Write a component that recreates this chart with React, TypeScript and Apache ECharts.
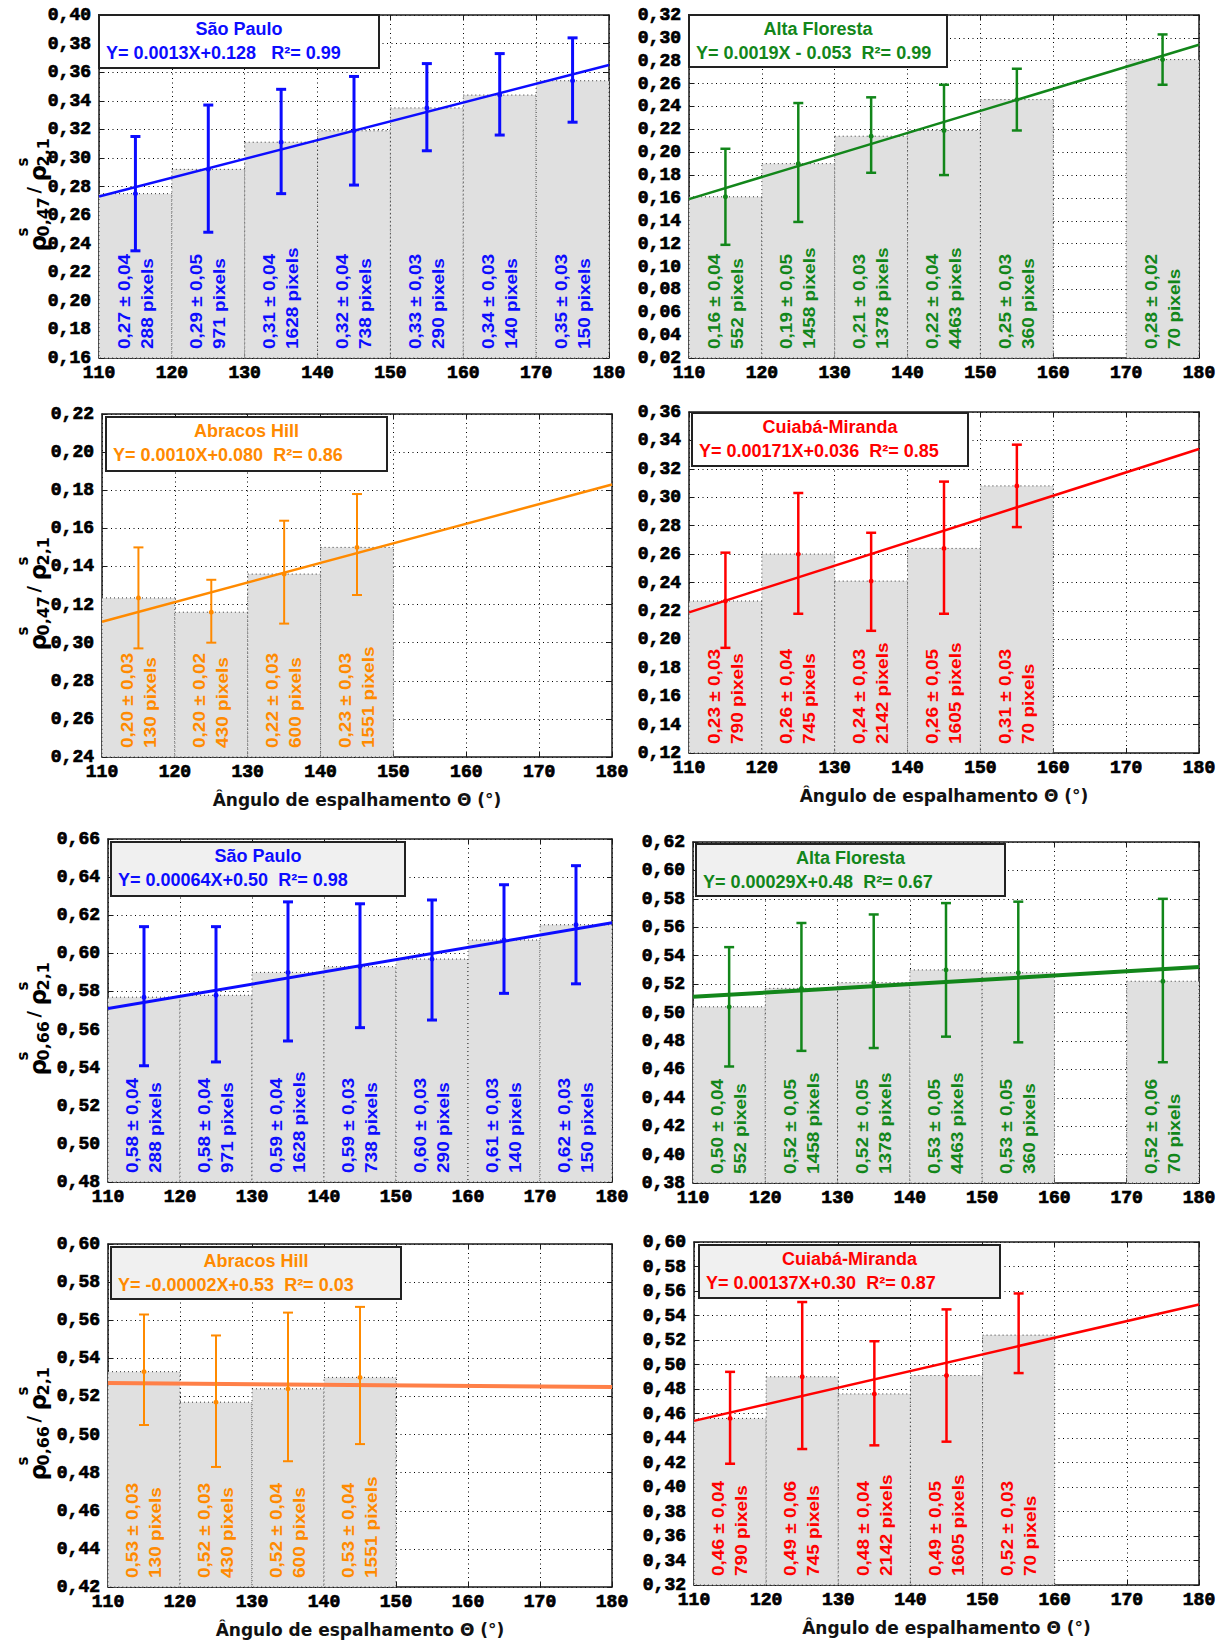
import React, { useEffect, useRef } from "react";
import * as echarts from "echarts";

// ---------- shared axis data ----------
const X_RANGE = [110, 180];
const X_STEP = 10;
const BIN_HALF = 5;
const Y_STEP = 0.02;
const X_TITLE = "Ângulo de espalhamento Θ (°)";

// ---------- Panel 1: São Paulo, 0,47 / 2,1 ----------
const sp47Centers = [115, 125, 135, 145, 155, 165, 175];
const sp47Means = [0.275, 0.292, 0.311, 0.319, 0.335, 0.344, 0.354];
const sp47Lo = [0.235, 0.248, 0.275, 0.281, 0.305, 0.316, 0.325];
const sp47Hi = [0.315, 0.337, 0.348, 0.357, 0.366, 0.373, 0.384];
const sp47Stats = ["0,27 ± 0,04", "0,29 ± 0,05", "0,31 ± 0,04", "0,32 ± 0,04", "0,33 ± 0,03", "0,34 ± 0,03", "0,35 ± 0,03"];
const sp47Pixels = ["288", "971", "1628", "738", "290", "140", "150"];
const sp47Fit = [0.273, 0.365];
const sp47Y = [0.16, 0.4];

// ---------- Panel 2: Alta Floresta, 0,47 / 2,1 ----------
const af47Centers = [115, 125, 135, 145, 155, 175];
const af47Means = [0.161, 0.19, 0.214, 0.219, 0.246, 0.281];
const af47Lo = [0.119, 0.139, 0.182, 0.18, 0.219, 0.259];
const af47Hi = [0.203, 0.243, 0.248, 0.259, 0.273, 0.303];
const af47Stats = ["0,16 ± 0,04", "0,19 ± 0,05", "0,21 ± 0,03", "0,22 ± 0,04", "0,25 ± 0,03", "0,28 ± 0,02"];
const af47Pixels = ["552", "1458", "1378", "4463", "360", "70"];
const af47Fit = [0.159, 0.294];
const af47Y = [0.02, 0.32];

// ---------- Panel 3: Abracos Hill, 0,47 / 2,1 ----------
const ah47Centers = [115, 125, 135, 145];
const ah47Means = [0.1235, 0.116, 0.136, 0.15];
const ah47Lo = [0.097, 0.1, 0.11, 0.125];
const ah47Hi = [0.15, 0.133, 0.164, 0.178];
const ah47Stats = ["0,20 ± 0,03", "0,20 ± 0,02", "0,22 ± 0,03", "0,23 ± 0,03"];
const ah47Pixels = ["130", "430", "600", "1551"];
const ah47Fit = [0.111, 0.183];
const ah47Y = [0.04, 0.22];
const ah47YLabels = ["0,24", "0,26", "0,28", "0,30", "0,12", "0,14", "0,16", "0,18", "0,20", "0,22"];

// ---------- Panel 4: Cuiabá-Miranda, 0,47 / 2,1 ----------
const cm47Centers = [115, 125, 135, 145, 155];
const cm47Means = [0.227, 0.26, 0.241, 0.264, 0.308];
const cm47Lo = [0.194, 0.218, 0.206, 0.218, 0.279];
const cm47Hi = [0.261, 0.303, 0.275, 0.311, 0.337];
const cm47Stats = ["0,23 ± 0,03", "0,26 ± 0,04", "0,24 ± 0,03", "0,26 ± 0,05", "0,31 ± 0,03"];
const cm47Pixels = ["790", "745", "2142", "1605", "70"];
const cm47Fit = [0.219, 0.334];
const cm47Y = [0.12, 0.36];

// ---------- Panel 5: São Paulo, 0,66 / 2,1 ----------
const sp66Centers = [115, 125, 135, 145, 155, 165, 175];
const sp66Means = [0.577, 0.578, 0.59, 0.593, 0.597, 0.607, 0.615];
const sp66Lo = [0.541, 0.543, 0.554, 0.561, 0.565, 0.579, 0.584];
const sp66Hi = [0.614, 0.614, 0.627, 0.626, 0.628, 0.636, 0.646];
const sp66Stats = ["0,58 ± 0,04", "0,58 ± 0,04", "0,59 ± 0,04", "0,59 ± 0,03", "0,60 ± 0,03", "0,61 ± 0,03", "0,62 ± 0,03"];
const sp66Pixels = ["288", "971", "1628", "738", "290", "140", "150"];
const sp66Fit = [0.571, 0.616];
const sp66Y = [0.48, 0.66];

// ---------- Panel 6: Alta Floresta, 0,66 / 2,1 ----------
const af66Centers = [115, 125, 135, 145, 155, 175];
const af66Means = [0.504, 0.517, 0.521, 0.53, 0.528, 0.522];
const af66Lo = [0.462, 0.473, 0.475, 0.483, 0.479, 0.465];
const af66Hi = [0.546, 0.563, 0.569, 0.577, 0.578, 0.58];
const af66Stats = ["0,50 ± 0,04", "0,52 ± 0,05", "0,52 ± 0,05", "0,53 ± 0,05", "0,53 ± 0,05", "0,52 ± 0,06"];
const af66Pixels = ["552", "1458", "1378", "4463", "360", "70"];
const af66Fit = [0.511, 0.532];
const af66Y = [0.38, 0.62];

// ---------- Panel 7: Abracos Hill, 0,66 / 2,1 ----------
const ah66Centers = [115, 125, 135, 145];
const ah66Means = [0.533, 0.517, 0.524, 0.53];
const ah66Lo = [0.505, 0.483, 0.486, 0.495];
const ah66Hi = [0.563, 0.552, 0.564, 0.567];
const ah66Stats = ["0,53 ± 0,03", "0,52 ± 0,03", "0,52 ± 0,04", "0,53 ± 0,04"];
const ah66Pixels = ["130", "430", "600", "1551"];
const ah66Fit = [0.527, 0.525];
const ah66Y = [0.42, 0.6];

// ---------- Panel 8: Cuiabá-Miranda, 0,66 / 2,1 ----------
const cm66Centers = [115, 125, 135, 145, 155];
const cm66Means = [0.456, 0.49, 0.476, 0.491, 0.524];
const cm66Lo = [0.419, 0.431, 0.434, 0.437, 0.493];
const cm66Hi = [0.494, 0.551, 0.519, 0.545, 0.558];
const cm66Stats = ["0,46 ± 0,04", "0,49 ± 0,06", "0,48 ± 0,04", "0,49 ± 0,05", "0,52 ± 0,03"];
const cm66Pixels = ["790", "745", "2142", "1605", "70"];
const cm66Fit = [0.454, 0.549];
const cm66Y = [0.32, 0.6];

// ---------- titles / equations ----------
const siteNames = ["São Paulo", "Alta Floresta", "Abracos Hill", "Cuiabá-Miranda", "São Paulo", "Alta Floresta", "Abracos Hill", "Cuiabá-Miranda"];
const equations = [
  "Y= 0.0013X+0.128   R²= 0.99",
  "Y= 0.0019X - 0.053  R²= 0.99",
  "Y= 0.0010X+0.080  R²= 0.86",
  "Y= 0.00171X+0.036  R²= 0.85",
  "Y= 0.00064X+0.50  R²= 0.98",
  "Y= 0.00029X+0.48  R²= 0.67",
  "Y= -0.00002X+0.53  R²= 0.03",
  "Y= 0.00137X+0.30  R²= 0.87",
];
const bandLabels = ["0,47", "0,66"];

// ---------- styling ----------
const BLUE = "#0c0cff";
const GREEN = "#12861a";
const ORANGE = "#ff8a00";
const RED = "#ff0000";
const FONT_TICK = '"Liberation Mono", "Courier New", monospace';
const FONT_SANS = '"Liberation Sans", Arial, sans-serif';
const FONT_TITLE = '"DejaVu Sans", Verdana, sans-serif';

const DATA = [
  { c: sp47Centers, m: sp47Means, lo: sp47Lo, hi: sp47Hi, st: sp47Stats, px: sp47Pixels, fit: sp47Fit, y: sp47Y },
  { c: af47Centers, m: af47Means, lo: af47Lo, hi: af47Hi, st: af47Stats, px: af47Pixels, fit: af47Fit, y: af47Y },
  { c: ah47Centers, m: ah47Means, lo: ah47Lo, hi: ah47Hi, st: ah47Stats, px: ah47Pixels, fit: ah47Fit, y: ah47Y, yl: ah47YLabels },
  { c: cm47Centers, m: cm47Means, lo: cm47Lo, hi: cm47Hi, st: cm47Stats, px: cm47Pixels, fit: cm47Fit, y: cm47Y },
  { c: sp66Centers, m: sp66Means, lo: sp66Lo, hi: sp66Hi, st: sp66Stats, px: sp66Pixels, fit: sp66Fit, y: sp66Y },
  { c: af66Centers, m: af66Means, lo: af66Lo, hi: af66Hi, st: af66Stats, px: af66Pixels, fit: af66Fit, y: af66Y },
  { c: ah66Centers, m: ah66Means, lo: ah66Lo, hi: ah66Hi, st: ah66Stats, px: ah66Pixels, fit: ah66Fit, y: ah66Y },
  { c: cm66Centers, m: cm66Means, lo: cm66Lo, hi: cm66Hi, st: cm66Stats, px: cm66Pixels, fit: cm66Fit, y: cm66Y },
];

const LAYOUT = [
  { left: 99, top: 15, width: 510, height: 343, box: [99, 15, 280, 53], fill: "#ffffff", color: BLUE, lineColor: BLUE, lw: 2.5, ebw: 3, yTitle: 0, xTitle: false },
  { left: 689, top: 15, width: 510, height: 343, box: [689, 15, 258, 52], fill: "#ffffff", color: GREEN, lineColor: GREEN, lw: 2.5, ebw: 2.5, yTitle: -1, xTitle: false },
  { left: 102, top: 414, width: 510, height: 343, box: [106, 417, 281, 54], fill: "#ffffff", color: ORANGE, lineColor: ORANGE, lw: 2.5, ebw: 2, yTitle: 0, xTitle: true },
  { left: 689, top: 412, width: 510, height: 341, box: [692, 413, 276, 53], fill: "#ffffff", color: RED, lineColor: RED, lw: 2.5, ebw: 2.5, yTitle: -1, xTitle: true },
  { left: 108, top: 839, width: 504, height: 343, box: [111, 842, 294, 54], fill: "#f0f0f0", color: BLUE, lineColor: BLUE, lw: 3, ebw: 3, yTitle: 1, xTitle: false },
  { left: 693, top: 842, width: 506, height: 341, box: [696, 844, 309, 52], fill: "#f0f0f0", color: GREEN, lineColor: GREEN, lw: 4, ebw: 2.5, yTitle: -1, xTitle: false },
  { left: 108, top: 1244, width: 504, height: 343, box: [111, 1247, 290, 52], fill: "#f0f0f0", color: ORANGE, lineColor: "#ff8048", lw: 4, ebw: 2, yTitle: 1, xTitle: true },
  { left: 694, top: 1242, width: 505, height: 343, box: [699, 1245, 301, 53], fill: "#f0f0f0", color: RED, lineColor: RED, lw: 2.5, ebw: 2.5, yTitle: -1, xTitle: true },
];

function yTitleGroup(cx: number, cy: number, band: string) {
  const f = (s: number) => `bold ${s}px ${FONT_TITLE}`;
  const t = (text: string, x: number, y: number, size: number) => ({
    type: "text",
    x,
    y,
    style: { text, font: f(size), fill: "#000", align: "left", verticalAlign: "middle", textAlign: "left", textVerticalAlign: "middle" },
  });
  return {
    type: "group",
    x: cx,
    y: cy,
    rotation: Math.PI / 2,
    z: 100,
    children: [
      t("ρ", -60, 1, 23),
      t("s", -45, -14, 15),
      t(band, -45, 6, 16),
      t("/", -2, -4, 18),
      t("ρ", 10, 1, 23),
      t("s", 25, -14, 15),
      t("2,1", 25, 6, 16),
    ],
  };
}

function buildOption() {
  const grid: any[] = [];
  const xAxis: any[] = [];
  const yAxis: any[] = [];
  const series: any[] = [];
  const graphic: any[] = [];

  LAYOUT.forEach((L, i) => {
    const d: any = DATA[i];
    grid.push({ left: L.left, top: L.top, width: L.width, height: L.height, containLabel: false, outerBoundsMode: "none" });
    const axisLine = { show: true, onZero: false, lineStyle: { color: "#1a1a1a", width: 1.5 } };
    const axisTick = { show: true, inside: true, length: 5, lineStyle: { color: "#1a1a1a", width: 1 } };
    const splitLine = { show: true, lineStyle: { color: "#000", width: 1, type: [1, 3.5] } };
    const tickFont = {
      color: "#000", fontFamily: FONT_TICK, fontWeight: "bold", fontSize: 18,
      textBorderColor: "#000", textBorderWidth: 0.7,
    };

    xAxis.push({
      gridIndex: i, type: "value", position: "bottom", min: X_RANGE[0], max: X_RANGE[1], interval: X_STEP,
      axisLine, axisTick, splitLine,
      axisLabel: { ...tickFont, margin: 6, formatter: (v: number) => String(Math.round(v)) },
      name: L.xTitle ? X_TITLE : "", nameLocation: "middle", nameGap: 34,
      nameTextStyle: { color: "#111", fontFamily: FONT_TITLE, fontWeight: "bold", fontSize: 17 },
    });
    xAxis.push({
      gridIndex: i, type: "value", position: "top", min: X_RANGE[0], max: X_RANGE[1], interval: X_STEP,
      axisLine, axisTick, splitLine: { show: false }, axisLabel: { show: false },
    });
    const yFmt = (v: number) => {
      const k = Math.round((v - d.y[0]) / Y_STEP);
      return d.yl ? d.yl[k] : (d.y[0] + k * Y_STEP).toFixed(2).replace(".", ",");
    };
    yAxis.push({
      gridIndex: i, type: "value", position: "left", min: d.y[0], max: d.y[1], interval: Y_STEP,
      axisLine, axisTick, splitLine,
      axisLabel: { ...tickFont, margin: 8, formatter: yFmt },
    });
    yAxis.push({
      gridIndex: i, type: "value", position: "right", min: d.y[0], max: d.y[1], interval: Y_STEP,
      axisLine, axisTick, splitLine: { show: false }, axisLabel: { show: false },
    });
    const xi = 2 * i;
    const yi = 2 * i;
    const yMin = d.y[0];

    // histogram bars
    series.push({
      type: "custom", xAxisIndex: xi, yAxisIndex: yi, silent: true, z: 1,
      data: d.c.map((c: number, k: number) => [c, d.m[k]]),
      renderItem: (_p: any, api: any) => {
        const c = api.value(0);
        const m = api.value(1);
        const a = api.coord([c - BIN_HALF, m]);
        const b = api.coord([c + BIN_HALF, yMin]);
        return {
          type: "rect",
          shape: { x: a[0], y: a[1], width: b[0] - a[0], height: b[1] - a[1] },
          style: { fill: "#e0e0e0", stroke: "#333", lineWidth: 1, lineDash: [1, 3] },
        };
      },
    });
    // fit line
    series.push({
      type: "line", xAxisIndex: xi, yAxisIndex: yi, silent: true, z: 3,
      data: [[X_RANGE[0], d.fit[0]], [X_RANGE[1], d.fit[1]]],
      symbol: "none", showSymbol: false,
      lineStyle: { color: L.lineColor, width: L.lw },
    });
    // error bars
    series.push({
      type: "custom", xAxisIndex: xi, yAxisIndex: yi, silent: true, z: 4,
      data: d.c.map((c: number, k: number) => [c, d.lo[k], d.hi[k], d.m[k]]),
      renderItem: (_p: any, api: any) => {
        const c = api.value(0);
        const a = api.coord([c, api.value(1)]);
        const b = api.coord([c, api.value(2)]);
        const mm = api.coord([c, api.value(3)]);
        const st = { stroke: L.color, lineWidth: L.ebw };
        const hw = 5;
        return {
          type: "group",
          children: [
            { type: "line", shape: { x1: a[0], y1: a[1], x2: b[0], y2: b[1] }, style: st },
            { type: "line", shape: { x1: a[0] - hw, y1: a[1], x2: a[0] + hw, y2: a[1] }, style: st },
            { type: "line", shape: { x1: b[0] - hw, y1: b[1], x2: b[0] + hw, y2: b[1] }, style: st },
            { type: "circle", shape: { cx: mm[0], cy: mm[1], r: 2.5 }, style: { fill: L.color } },
          ],
        };
      },
    });
    // rotated bin labels
    series.push({
      type: "custom", xAxisIndex: xi, yAxisIndex: yi, silent: true, z: 5,
      data: d.c.map((c: number, k: number) => [c, k]),
      renderItem: (_p: any, api: any) => {
        const c = api.value(0);
        const k = api.value(1);
        const p = api.coord([c, yMin]);
        return {
          type: "text",
          x: p[0],
          y: p[1] - 9,
          rotation: Math.PI / 2,
          scaleX: 1.12,
          style: {
            text: d.st[k] + "\n" + d.px[k] + " pixels",
            fill: L.color,
            font: `bold 17px ${FONT_SANS}`,
            align: "left", verticalAlign: "middle", textAlign: "left", textVerticalAlign: "middle",
            lineHeight: 23,
          },
        };
      },
    });

    // legend box
    const [bx, by, bw, bh] = L.box;
    graphic.push({
      type: "rect", z: 100,
      shape: { x: bx, y: by, width: bw, height: bh },
      style: { fill: L.fill, stroke: "#222", lineWidth: 2 },
    });
    graphic.push({
      type: "text", z: 101, x: bx + bw / 2, y: by + 14,
      style: { text: siteNames[i], font: `bold 18px ${FONT_SANS}`, fill: L.color, align: "center", verticalAlign: "middle", textAlign: "center", textVerticalAlign: "middle" },
    });
    graphic.push({
      type: "text", z: 101, x: bx + 7, y: by + 38,
      style: { text: equations[i], font: `bold 18px ${FONT_SANS}`, fill: L.color, align: "left", verticalAlign: "middle", textAlign: "left", textVerticalAlign: "middle" },
    });
    if (L.yTitle >= 0) {
      graphic.push(yTitleGroup(37, L.top + L.height / 2 + 5, bandLabels[L.yTitle]));
    }
  });

  return { animation: false, backgroundColor: "#ffffff", grid, xAxis, yAxis, series, graphic };
}

export default function App() {
  const ref = useRef<HTMLDivElement>(null);
  useEffect(() => {
    if (!ref.current) return;
    const chart = echarts.init(ref.current, undefined, { renderer: "svg" });
    chart.setOption(buildOption() as any);
    return () => chart.dispose();
  }, []);
  return (
    <div
      ref={ref}
      style={{ position: "absolute", left: 0, top: 0, width: 1227, height: 1642, background: "#fff" }}
    />
  );
}
